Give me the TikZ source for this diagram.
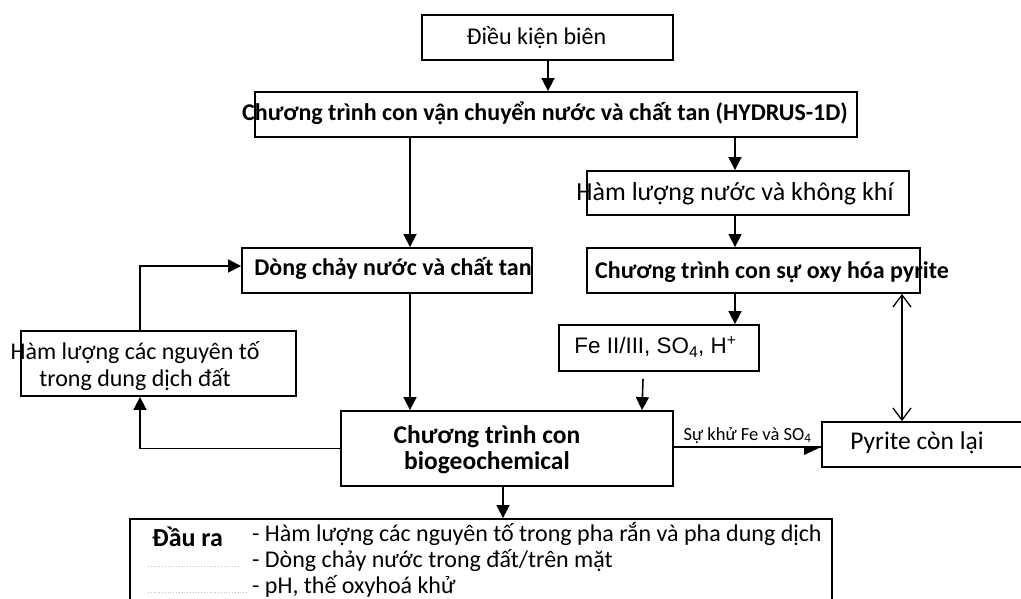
\documentclass[tikz,border=0pt]{standalone}
\usepackage{fontspec}
\setmainfont{Carlito}
\newfontfamily\arialf{Liberation Sans}
\usetikzlibrary{arrows.meta}
\begin{document}
\begin{tikzpicture}[x=1pt,y=-1pt,
  box/.style={draw, line width=1.8pt, inner sep=0pt, fill=white},
  txt/.style={inner sep=0pt, font=\fontsize{24}{27}\selectfont},
  btxt/.style={inner sep=0pt, font=\fontsize{24}{26}\selectfont\bfseries},
  arr/.style={line width=1.6pt, -{Triangle[width=13pt,length=13pt]}},
  plain/.style={line width=1.4pt},
  open/.style={line width=1.3pt, {Straight Barb[width=18pt,length=12pt,line width=1.3pt]}-{Straight Barb[width=18pt,length=12pt,line width=1.3pt]}},
  lead/.style={gray!45, line width=0.8pt, dotted}]
\clip (0,0) rectangle (1021,599);
\fill[white] (0,0) rectangle (1021,599);
% boxes
\node[box, minimum width=251pt, minimum height=45pt] (bc) at (547.5,37.5) {};
\node[box, minimum width=602pt, minimum height=45pt] (hyd) at (556,114.5) {};
\node[box, minimum width=322pt, minimum height=44pt] (hlnk) at (748,193) {};
\node[box, minimum width=333pt, minimum height=45pt] (oxy) at (753.5,270.5) {};
\node[box, minimum width=290pt, minimum height=45pt] (dc) at (387,270.5) {};
\node[box, minimum width=275pt, minimum height=65pt] (hlng) at (158.5,363.5) {};
\node[box, minimum width=332pt, minimum height=75pt] (bio) at (507,448.5) {};
\node[box, minimum width=200pt, minimum height=46pt] (fe) at (659,348) {};
\node[box, minimum width=208pt, minimum height=45pt] (pyr) at (926,444.5) {};
\node[box, minimum width=702pt, minimum height=101pt] (out) at (481,569.5) {};
% texts
\node[txt] (tbc) at (536.5,38) {Điều kiện biên};
\node[btxt] (thyd) at (545,113) {Chương trình con vận chuyển nước và chất tan (HYDRUS-1D)};
\node[txt, font=\fontsize{26}{28}\selectfont] (thlnk) at (735,194) {Hàm lượng nước và không khí};
\node[btxt] (toxy) at (772,272) {Chương trình con sự oxy hóa pyrite};
\node[btxt] (tdc) at (393,268) {Dòng chảy nước và chất tan};
\node[txt, align=center] (thlng) at (135,366) {Hàm lượng các nguyên tố\\ trong dung dịch đất};
\node[btxt, align=center, font=\fontsize{25.5}{26}\selectfont\bfseries] (tbio) at (487,450) {Chương trình con\\biogeochemical};
\node[inner sep=0pt, font=\arialf\fontsize{22.4}{24}\selectfont] (tfe) at (655.5,347) {Fe II/III, SO\textsubscript{4}, H\textsuperscript{+}};
\node[txt, font=\fontsize{25.5}{28}\selectfont] (tpyr) at (917,443) {Pyrite còn lại};
\node[btxt, anchor=west, font=\fontsize{26}{28}\selectfont\bfseries] (tout) at (152,537) {Đầu ra};
\node[txt, anchor=west, align=left, font=\fontsize{24}{26}\selectfont] (tlines) at (252,560) {- Hàm lượng các nguyên tố trong pha rắn và pha dung dịch\\- Dòng chảy nước trong đất/trên mặt\\- pH, thế oxyhoá khử};
\draw[lead] (148,566) -- (240,566);
\draw[lead] (148,592) -- (248,592);
% connectors
\draw[arr] (bc.south -| 548,0) -- (hyd.north -| 548,0);
\draw[arr] (hyd.south -| 410,0) -- (dc.north -| 410,0);
\draw[arr] (hyd.south -| 735,0) -- (hlnk.north -| 735,0);
\draw[arr] (hlnk.south -| 735,0) -- (oxy.north -| 735,0);
\draw[arr] (oxy.south -| 735,0) -- (fe.north -| 735,0);
\draw[arr] (dc.south -| 410,0) -- (bio.north -| 410,0);
\draw[arr] ([yshift=-7pt]fe.south -| 643,0) -- (bio.north -| 642,0);
\draw[arr] (bio.west) -| (hlng.south -| 140,0);
\draw[arr] (hlng.north -| 140,0) |- ([yshift=4.5pt]dc.west);
\draw[arr] (bio.south -| 503,0) -- (out.north -| 503,0);
\draw[plain] ([yshift=1.5pt]bio.east) -- coordinate[pos=1] (tip) ([yshift=1.5pt]bio.east -| pyr.west)
  node[midway, above=2pt, inner sep=1pt, font=\fontsize{18.5}{22}\selectfont] (lbl) {Sự khử Fe và SO\textsubscript{4}};
\fill (tip) -- ++(-17,0) -- ++(0,8) -- cycle;
\draw[open] (oxy.south -| 902,0) -- (pyr.north -| 902,0);
\end{tikzpicture}
\end{document}
